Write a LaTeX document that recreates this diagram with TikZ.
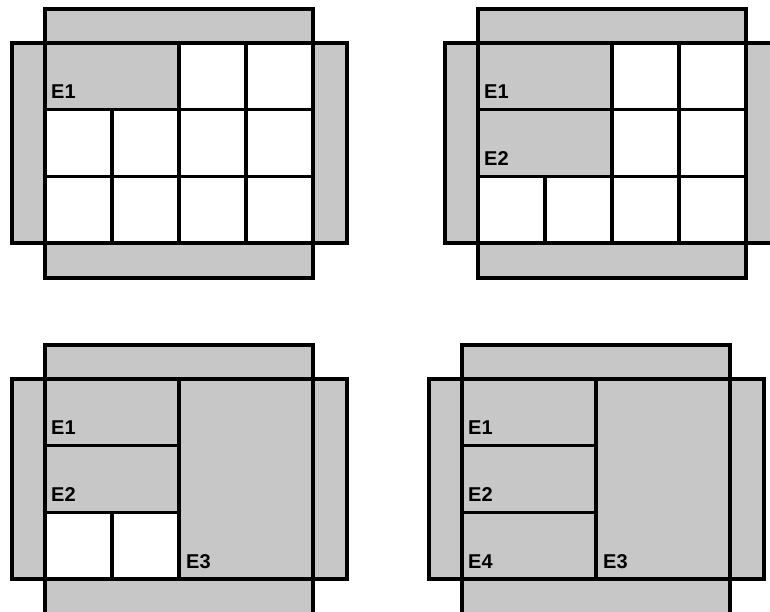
\documentclass[tikz,border=0pt]{standalone}
\usepackage{fontspec}
\setmainfont{Liberation Sans}
\usepackage{tikz}
\tikzset{
  rule/.style={line width=3.2pt,line join=miter},
  band/.style={fill=black!22},
  elabel/.style={anchor=base west,inner sep=0pt,font=\fontsize{20}{20}\selectfont\bfseries}
}
% one board: 4x3 grid of 67 x 66.7 cells, bands of about 34 round it
\newcommand{\boardbands}{%
  \fill[band] (0,-34) rectangle (268,0);
  \fill[band] (0,200) rectangle (268,235);
  \fill[band] (-33,0) rectangle (0,200);
  \fill[band] (268,0) rectangle (302,200);
}
\newcommand{\bandrules}{%
  \draw[rule] (0,-34) rectangle (268,0);
  \draw[rule] (0,200) rectangle (268,235);
  \draw[rule] (-33,0) rectangle (0,200);
  \draw[rule] (268,0) rectangle (302,200);
}
% cell block from column #1, row #2 to column #3, row #4
\newcommand{\whiteblock}[4]{\draw[rule,fill=white] ({(#1)*67},{(#2)*200/3}) rectangle ({(#3)*67},{(#4)*200/3});}
\newcommand{\greyblock}[4]{\draw[rule,band] ({(#1)*67},{(#2)*200/3}) rectangle ({(#3)*67},{(#4)*200/3});}

\begin{document}
\begin{tikzpicture}[x=1pt,y=-1pt]
  \useasboundingbox (0,0) rectangle (770,612);
  \clip (0,0) rectangle (770,612);

  % board 1: E1 only
  \begin{scope}[shift={(45,43)}]
    \boardbands
    \foreach \c/\r in {2/0,3/0,0/1,1/1,2/1,3/1,0/2,1/2,2/2,3/2}
      \whiteblock{\c}{\r}{\c+1}{\r+1}
    \greyblock{0}{0}{2}{1}
    \bandrules
    \node[elabel] (a1) at (6,{200/3-11}) {E1};
  \end{scope}

  % board 2: E1, E2
  \begin{scope}[shift={(478,43)}]
    \boardbands
    \foreach \c/\r in {2/0,3/0,2/1,3/1,0/2,1/2,2/2,3/2}
      \whiteblock{\c}{\r}{\c+1}{\r+1}
    \greyblock{0}{0}{2}{1}
    \greyblock{0}{1}{2}{2}
    \bandrules
    \node[elabel] (b1) at (6,{200/3-11}) {E1};
    \node[elabel] (b2) at (6,{400/3-11}) {E2};
  \end{scope}

  % board 3: E1, E2, E3
  \begin{scope}[shift={(45,379)}]
    \boardbands
    \foreach \c/\r in {0/2,1/2}
      \whiteblock{\c}{\r}{\c+1}{\r+1}
    \greyblock{0}{0}{2}{1}
    \greyblock{0}{1}{2}{2}
    \greyblock{2}{0}{4}{3}
    \bandrules
    \node[elabel] (c1) at (6,{200/3-11}) {E1};
    \node[elabel] (c2) at (6,{400/3-11}) {E2};
    \node[elabel] (c3) at (141,189) {E3};
  \end{scope}

  % board 4: E1, E2, E4, E3
  \begin{scope}[shift={(462,379)}]
    \boardbands
    \greyblock{0}{0}{2}{1}
    \greyblock{0}{1}{2}{2}
    \greyblock{0}{2}{2}{3}
    \greyblock{2}{0}{4}{3}
    \bandrules
    \node[elabel] (d1) at (6,{200/3-11}) {E1};
    \node[elabel] (d2) at (6,{400/3-11}) {E2};
    \node[elabel] (d4) at (6,189) {E4};
    \node[elabel] (d3) at (141,189) {E3};
  \end{scope}
\end{tikzpicture}
\end{document}
